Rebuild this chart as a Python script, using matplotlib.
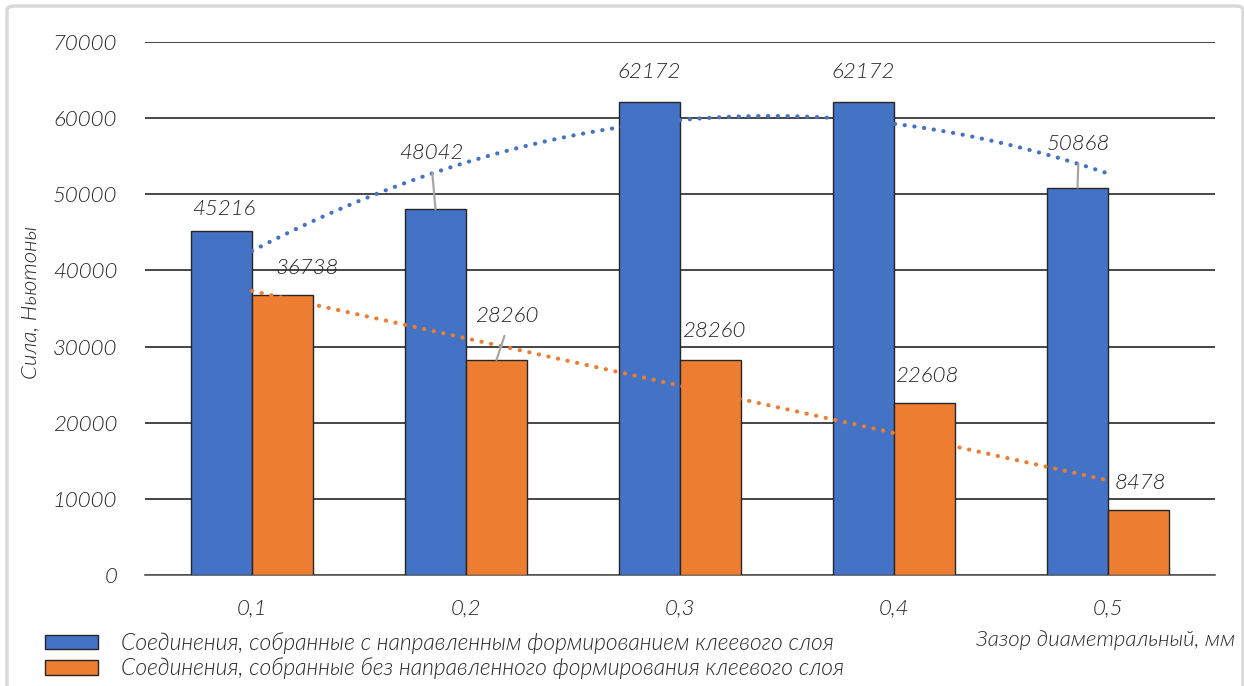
import numpy as np
import matplotlib
matplotlib.use("Agg")
import matplotlib.pyplot as plt
from matplotlib.patches import FancyBboxPatch

plt.rcParams['font.family'] = ['Lato', 'DejaVu Sans']

gaps = ['0,1', '0,2', '0,3', '0,4', '0,5']
force_directed = [45216, 48042, 62172, 62172, 50868]
force_plain = [36738, 28260, 28260, 22608, 8478]
label_directed = "Соединения, собранные с направленным формированием клеевого слоя"
label_plain = "Соединения, собранные без направленного формирования клеевого слоя"

# label offsets in pixels (dx, dy) and whether a leader line is drawn
offs_directed = [(2, 22), (-4, 56), (0, 30), (0, 30), (1, 44)]
lead_directed = [False, True, False, False, True]
offs_plain = [(25, 27), (10, 44), (3, 29), (2, 27), (2, 27)]
lead_plain = [False, True, False, False, False]

BLUE = '#4472C4'
ORANGE = '#ED7D31'
TXT = '#262626'
W, H = 1244, 686
FS = 16
WT = 300

fig = plt.figure(figsize=(W / 100, H / 100), dpi=100)
fig.patches.append(FancyBboxPatch((7 / W, -0.02), (1236) / W, 1 - 6 / H + 0.02,
                                  boxstyle="round,pad=0,rounding_size=0.006",
                                  transform=fig.transFigure, fill=False,
                                  edgecolor='#d9d9d9', linewidth=2.5))
ax = fig.add_axes([145 / W, 1 - 575 / H, 1070 / W, 533 / H])

x = np.arange(len(gaps))
bw = 0.285
fkw = dict(family=['Lato', 'DejaVu Sans'], style='italic', weight=WT)

ax.bar(x - bw / 2, force_directed, bw, color=BLUE, edgecolor='#262626',
       linewidth=1, zorder=3, label=label_directed)
ax.bar(x + bw / 2, force_plain, bw, color=ORANGE, edgecolor='#262626',
       linewidth=1, zorder=3, label=label_plain)

# trendlines (quadratic for directed, linear for plain), drawn over the bars
xt = np.linspace(0, len(gaps) - 1, 300)
p2 = np.polyfit(x, force_directed, 2)
p1 = np.polyfit(x, force_plain, 1)
dots = (0, (0.05, 2.3))
ax.plot(xt, np.polyval(p2, xt), color=BLUE, linestyle=dots,
        linewidth=3, dash_capstyle='round', zorder=4)
ax.plot(xt, np.polyval(p1, xt), color=ORANGE, linestyle=dots,
        linewidth=3, dash_capstyle='round', zorder=4)

def put_labels(xs, vals, offs, leads):
    for xi, v, (dx, dy), ld in zip(xs, vals, offs, leads):
        ax.annotate(str(v), (xi, v), xytext=(dx, dy), textcoords='offset pixels',
                    ha='center', va='center', fontsize=FS, color=TXT, zorder=6, **fkw)
        if ld:
            ax.annotate('', (xi, v), xytext=(dx * 0.8, dy - 20), textcoords='offset pixels',
                        arrowprops=dict(arrowstyle='-', color='#a6a6a6', lw=1.6,
                                        shrinkA=0, shrinkB=0), zorder=5)

put_labels(x - bw / 2, force_directed, offs_directed, lead_directed)
put_labels(x + bw / 2, force_plain, offs_plain, lead_plain)

ax.set_xlim(-0.5, len(gaps) - 0.5)
ax.set_ylim(0, 70000)
ax.set_yticks(np.arange(0, 70001, 10000))
ax.set_xticks(x)
ax.set_xticklabels(gaps)
ax.yaxis.grid(True, color='#262626', linewidth=1.2, zorder=0)
ax.set_axisbelow(True)
for s in ['left', 'right', 'top']:
    ax.spines[s].set_visible(False)
ax.spines['bottom'].set_color('#595959')
ax.spines['bottom'].set_linewidth(1.2)
ax.tick_params(length=0, labelcolor=TXT, labelsize=FS)
ax.tick_params(axis='y', pad=20)
ax.tick_params(axis='x', pad=17)
for t in ax.get_xticklabels() + ax.get_yticklabels():
    t.set_fontstyle('italic')
    t.set_fontweight(WT)

fig.text(30 / W, 1 - 302 / H, "Сила, Ньютоны", rotation=90, ha='center', va='center',
         fontsize=FS, color=TXT, **fkw)
fig.text(1235 / W, 1 - 640 / H, "Зазор диаметральный, мм", ha='right', va='center',
         fontsize=FS, color=TXT, **fkw)

leg = fig.legend(loc='upper left', bbox_to_anchor=(34 / W, 1 - 621 / H), frameon=False,
                 handlelength=2.3, handleheight=0.6, handletextpad=1.0, labelspacing=0.15,
                 borderpad=0, prop=dict(size=16.5, style='italic', weight=WT,
                                        family=['Lato', 'DejaVu Sans']))
for t in leg.get_texts():
    t.set_color(TXT)

fig.savefig("out.png", dpi=100)
